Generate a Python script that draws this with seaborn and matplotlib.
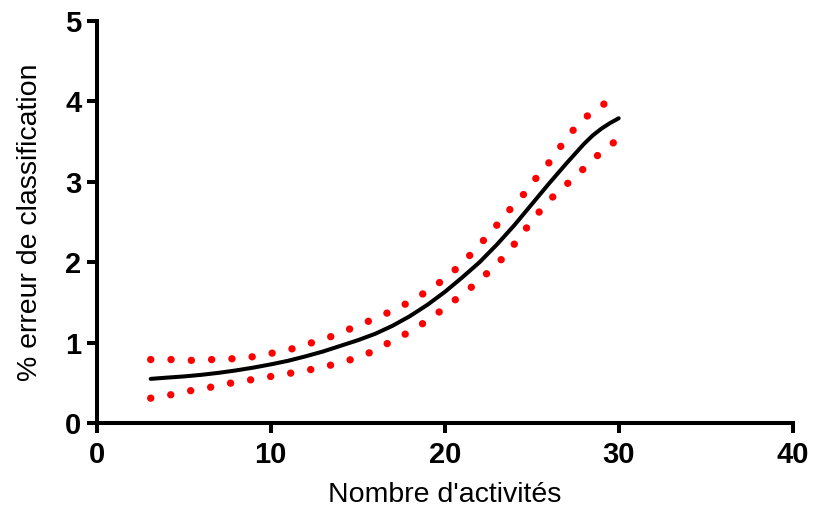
import matplotlib
matplotlib.use("Agg")
import matplotlib.pyplot as plt
import seaborn as sns
import pandas as pd

# fitted curve
fit_x = [3.1, 4.0, 5.0, 6.0, 7.0, 8.0, 9.0, 10.0, 11.0, 12.0, 13.0, 14.0, 15.0, 16.0,
         17.0, 18.0, 19.0, 20.0, 21.0, 22.0, 23.0, 24.0, 25.0, 26.0, 27.0, 28.0, 28.5,
         29.0, 29.5, 30.0]
fit_y = [0.55, 0.565, 0.58, 0.60, 0.625, 0.655, 0.69, 0.73, 0.775, 0.83, 0.89, 0.96, 1.03, 1.11,
         1.21, 1.33, 1.47, 1.63, 1.81, 2.0, 2.22, 2.46, 2.72, 2.98, 3.23, 3.47, 3.575,
         3.66, 3.73, 3.79]

# upper confidence band
up_x = [3.1, 4.25, 5.44, 6.63, 7.82, 8.97, 10.08, 11.17, 12.22, 13.28, 14.31, 15.34,
        16.28, 17.34, 18.3, 19.24, 20.13, 20.96, 21.72, 22.43, 23.15, 23.84, 24.56,
        25.23, 25.9, 26.53, 27.18, 27.89, 28.78, 29.7, 30.0]
up_y = [0.79, 0.79, 0.78, 0.79, 0.80, 0.825, 0.87, 0.92, 0.99, 1.06, 1.15, 1.24,
        1.33, 1.43, 1.55, 1.67, 1.82, 1.975, 2.15, 2.32, 2.5, 2.68, 2.85,
        3.04, 3.21, 3.40, 3.59, 3.77, 3.91, 4.05, 4.08]

# lower confidence band
lo_x = [3.1, 4.2, 5.31, 6.4, 7.51, 8.62, 9.73, 10.84, 11.95, 13.07, 14.16, 15.21,
        16.19, 17.18, 18.16, 19.08, 20.0, 20.88, 21.74, 22.57, 23.33, 24.02, 24.68,
        25.33, 26.05, 26.86, 27.68, 28.45, 29.25, 30.0]
lo_y = [0.31, 0.35, 0.40, 0.44, 0.49, 0.53, 0.57, 0.61, 0.65, 0.70, 0.76, 0.83,
        0.925, 1.05, 1.15, 1.29, 1.43, 1.58, 1.725, 1.89, 2.05, 2.23, 2.42,
        2.6, 2.78, 2.94, 3.10, 3.26, 3.42, 3.53]

x_ticks = [0, 10, 20, 30, 40]
y_ticks = [0, 1, 2, 3, 4, 5]

sns.set_style("ticks", {'axes.edgecolor': 'black', 'text.color': 'black',
                        'xtick.color': 'black', 'ytick.color': 'black',
                        'axes.labelcolor': 'black'})
plt.rcParams['font.family'] = ['Liberation Sans', 'DejaVu Sans']

fig = plt.figure(figsize=(8.13, 5.11), dpi=100)
ax = fig.add_axes([0.119, 0.172, 0.856, 0.787])

fit = pd.DataFrame({'x': fit_x, 'y': fit_y})
up = pd.DataFrame({'x': up_x, 'y': up_y})
lo = pd.DataFrame({'x': lo_x, 'y': lo_y})

dot_style = (0, (0.01, 2.75))
for band in (up, lo):
    sns.lineplot(data=band, x='x', y='y', ax=ax, color='red', lw=5.3,
                 linestyle=dot_style, sort=False)
for line in ax.lines:
    line.set_dash_capstyle('round')
sns.lineplot(data=fit, x='x', y='y', ax=ax, color='black', lw=2.9, sort=False)

ax.set_xlim(0, 40)
ax.set_ylim(0, 5)
ax.set_xticks(x_ticks)
ax.set_yticks(y_ticks)
ax.set_xlabel("Nombre d'activités", fontsize=20.5, labelpad=9)
ax.set_ylabel("% erreur de classification", fontsize=20.5, labelpad=16)
for lab in ax.get_xticklabels() + ax.get_yticklabels():
    lab.set_fontweight('bold')
    lab.set_fontsize(21)
ax.tick_params(width=2.9, length=7, direction='out')
ax.tick_params(axis='x', pad=6)
ax.tick_params(axis='y', pad=4)
for s in ['left', 'bottom']:
    ax.spines[s].set_linewidth(2.9)
sns.despine(ax=ax)

fig.savefig('out.png', dpi=100)
